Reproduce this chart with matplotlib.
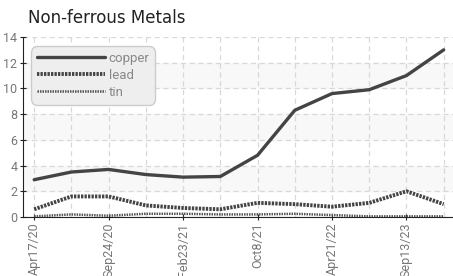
import numpy as np
import matplotlib.pyplot as plt
from matplotlib import font_manager

# data
dates = ["Apr17/20", "", "Sep24/20", "", "Feb23/21", "", "Oct8/21", "",
         "Apr21/22", "", "Sep13/23", ""]
copper = [2.9, 3.5, 3.7, 3.3, 3.1, 3.15, 4.8, 8.3, 9.6, 9.9, 11.0, 13.0]
lead = [0.6, 1.6, 1.6, 0.9, 0.7, 0.6, 1.1, 1.0, 0.8, 1.1, 2.0, 1.0]
tin = [0.05, 0.2, 0.1, 0.25, 0.25, 0.2, 0.2, 0.25, 0.15, 0.05, 0.05, 0.05]

names = [f.name for f in font_manager.fontManager.ttflist]
tickfont = "Liberation Sans Narrow" if "Liberation Sans Narrow" in names else "Roboto"

fig = plt.figure(figsize=(4.53, 2.76), dpi=100)
ax = fig.add_axes([23 / 453, 59 / 276, 1 - 23 / 453, 180 / 276])

x = np.arange(len(copper))

# alternating background bands
for lo in (2, 6, 10):
    ax.axhspan(lo, lo + 2, color="#f8f8f8", zorder=0)

ax.plot(x, copper, color="#444444", lw=2.4, solid_capstyle="round", label="copper", zorder=3)
ax.plot(x, lead, color="#444444", lw=2.8, linestyle=(0, (0.6, 0.3)), label="lead", zorder=3)
ax.plot(x, tin, color="#555555", lw=1.8, linestyle=(0, (0.6, 0.4)), label="tin", zorder=3)

ax.set_xlim(-0.3, 11.25)
ax.set_ylim(0, 14)
ax.set_yticks(range(0, 15, 2))
ax.set_xticks(x[::2])
ax.set_xticklabels(dates[::2], rotation=90, fontfamily=tickfont)
for lab in ax.get_yticklabels():
    lab.set_fontfamily(tickfont)

ax.grid(True, color="#d8d8d8", linestyle=(0, (4, 3)), lw=0.9)
ax.set_xticks(x, minor=True)
ax.grid(True, which="minor", axis="x", color="#d8d8d8", linestyle=(0, (4, 3)), lw=0.9)
ax.set_axisbelow(True)

for s in ("top", "right"):
    ax.spines[s].set_visible(False)
ax.spines["left"].set_color("#222222")
ax.spines["bottom"].set_color("#222222")
ax.tick_params(axis="both", which="major", labelsize=9, labelcolor="#777777",
               color="#222222", length=4, direction="inout", pad=2)
ax.tick_params(axis="x", which="minor", length=0)

leg = ax.legend(loc="upper left", bbox_to_anchor=(0.018, 0.95),
                frameon=True, fancybox=True, facecolor="#eeeeee", edgecolor="#cccccc",
                framealpha=1, handlelength=5.2, handletextpad=0.25, labelspacing=0.3,
                borderpad=0.45, borderaxespad=0.0,
                prop={"family": tickfont, "size": 9.5})
leg.get_frame().set_boxstyle("round", pad=0.0, rounding_size=0.5)
for t in leg.get_texts():
    t.set_color("#888888")

fig.text(28 / 453, 1 - 18 / 276, "Non-ferrous Metals", fontsize=12, color="#222222",
         va="center", ha="left")

fig.savefig("out.png", dpi=100)
